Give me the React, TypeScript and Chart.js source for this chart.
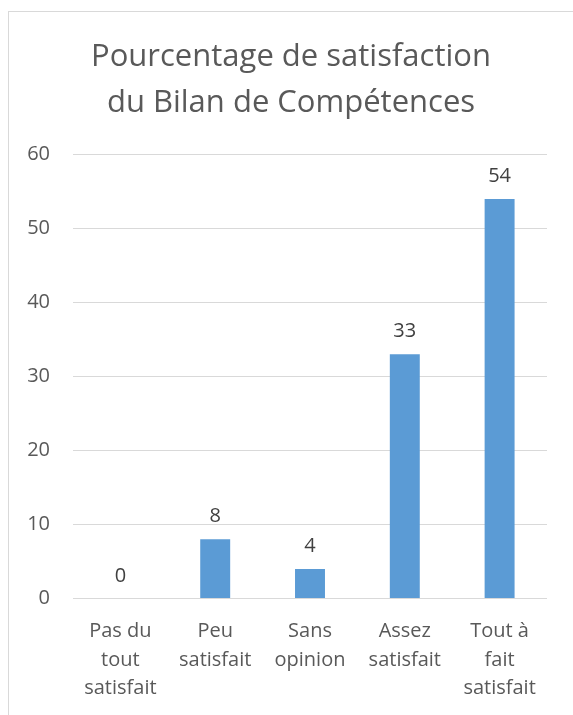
import React, { useEffect, useRef } from "react";
import { Chart, registerables } from "chart.js";

Chart.register(...registerables);

const titleLines = ["Pourcentage de satisfaction", "du Bilan de Compétences"];
const categories: string[][] = [
  ["Pas du", "tout", "satisfait"],
  ["Peu", "satisfait"],
  ["Sans", "opinion"],
  ["Assez", "satisfait"],
  ["Tout à", "fait", "satisfait"],
];
const values = [0, 8, 4, 33, 54];
const yMin = 0;
const yMax = 60;
const yStep = 10;

const FONT = "'Open Sans', sans-serif";
const TEXT = "#595959";
const LABEL = "#404040";
const BAR = "#5B9BD5";
const GRID = "#D9D9D9";

const titlePlugin = {
  id: "twoLineTitle",
  afterDraw(chart: any) {
    const ctx = chart.ctx;
    ctx.save();
    ctx.font = `31px ${FONT}`;
    ctx.fillStyle = TEXT;
    ctx.textAlign = "center";
    ctx.textBaseline = "alphabetic";
    const cx = chart.width / 2;
    ctx.fillText(titleLines[0], cx, 54);
    ctx.fillText(titleLines[1], cx, 100);
    ctx.restore();
  },
};

const dataLabelPlugin = {
  id: "dataLabels",
  afterDatasetsDraw(chart: any) {
    const ctx = chart.ctx;
    const meta = chart.getDatasetMeta(0);
    const data = chart.data.datasets[0].data;
    ctx.save();
    ctx.font = `20px ${FONT}`;
    ctx.fillStyle = LABEL;
    ctx.textAlign = "center";
    ctx.textBaseline = "alphabetic";
    meta.data.forEach((bar: any, i: number) => {
      ctx.fillText(String(data[i]), bar.x, bar.y - 17);
    });
    ctx.restore();
  },
};

export default function App() {
  const ref = useRef<HTMLCanvasElement | null>(null);

  useEffect(() => {
    if (!ref.current) return;
    const chart = new Chart(ref.current, {
      type: "bar",
      data: {
        labels: categories,
        datasets: [
          {
            data: values,
            backgroundColor: BAR,
            borderWidth: 0,
            barPercentage: 0.316,
            categoryPercentage: 1,
          },
        ],
      },
      options: {
        responsive: false,
        animation: false,
        devicePixelRatio: 1,
        layout: { padding: { top: 142.5, right: 26, left: 0, bottom: 0 } },
        plugins: {
          legend: { display: false },
          title: { display: false },
          tooltip: { enabled: false },
        },
        scales: {
          x: {
            grid: { display: false, drawTicks: false },
            border: { display: false },
            ticks: {
              color: TEXT,
              font: { family: FONT, size: 20, lineHeight: 1.42 },
              padding: 19,
              maxRotation: 0,
              autoSkip: false,
            },
            afterFit(scale: any) {
              scale.height = 116.5;
            },
          },
          y: {
            min: yMin,
            max: yMax,
            grid: { color: GRID, lineWidth: 1, drawTicks: false },
            border: { display: false },
            ticks: {
              stepSize: yStep,
              color: TEXT,
              font: { family: FONT, size: 20 },
              padding: 23,
            },
            afterFit(scale: any) {
              scale.width = 64;
            },
          },
        },
      },
      plugins: [titlePlugin, dataLabelPlugin],
    });
    return () => chart.destroy();
  }, []);

  return (
    <div
      style={{
        position: "absolute",
        left: 8,
        top: 11,
        width: 565,
        height: 704,
        borderTop: "1px solid #D9D9D9",
        borderLeft: "1px solid #D9D9D9",
        boxSizing: "border-box",
        background: "#fff",
        overflow: "hidden",
      }}
    >
      <canvas ref={ref} width={564} height={703} style={{ display: "block" }} />
    </div>
  );
}
